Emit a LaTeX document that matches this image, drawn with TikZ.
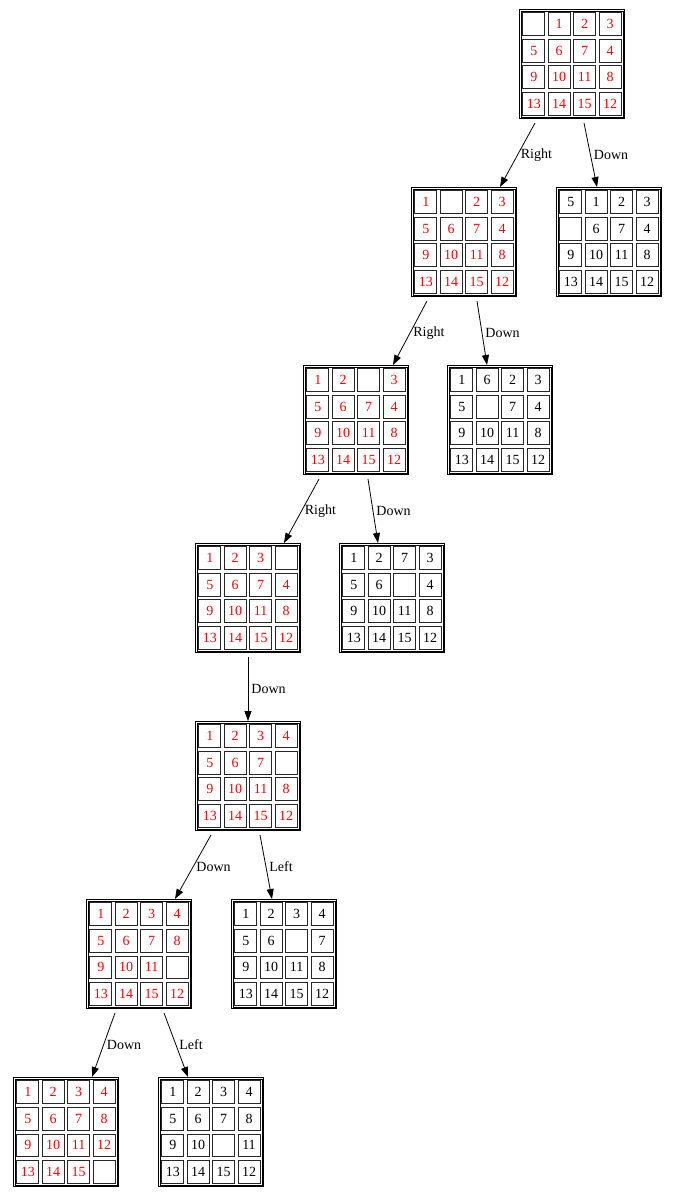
\documentclass[tikz,border=0pt]{standalone}
\usepackage{fontspec}
\setmainfont{Liberation Serif}
\usetikzlibrary{arrows.meta,calc}
\definecolor{tred}{RGB}{255,0,0}
\tikzset{
  boardbox/.style={draw=black, line width=0.7pt,
    minimum width=105.3pt, minimum height=109.3pt, inner sep=0pt},
  boardinner/.style={draw=black, line width=0.7pt},
  cellbox/.style={draw=black!85, line width=1pt, minimum width=22pt,
    minimum height=22.7pt, inner sep=0pt, font=\fontsize{14}{16}\selectfont},
  edge/.style={draw=black, line width=0.8pt, -{Triangle[length=10pt,width=7pt]}},
  elabel/.style={midway, right, inner sep=3pt, font=\fontsize{14}{16}\selectfont}
}
\newcommand\myboard[5]{%
  \node[boardbox] (#1) at (#2,#3) {};
  \draw[boardinner] ([xshift=1.9pt,yshift=-1.9pt]#1.north west) rectangle ([xshift=-1.9pt,yshift=1.9pt]#1.south east);
  \foreach \v [count=\i from 0] in {#5} {
    \pgfmathtruncatemacro\cc{mod(\i,4)}
    \pgfmathtruncatemacro\rr{div(\i,4)}
    \node[cellbox, text=#4] (#1-\i) at ($(#1)+(\cc*25.4-38.2, \rr*26.67-40)$) {\v};
  }%
}
\begin{document}
\begin{tikzpicture}[x=1pt,y=-1pt]
\useasboundingbox (0,0) rectangle (676,1199);
\fill[white] (0,0) rectangle (676,1199);

\myboard{b1}{572}{64}{tred}{{},1,2,3,5,6,7,4,9,10,11,8,13,14,15,12}
\myboard{b2}{464}{242}{tred}{1,{},2,3,5,6,7,4,9,10,11,8,13,14,15,12}
\myboard{b3}{609}{242}{black}{5,1,2,3,{},6,7,4,9,10,11,8,13,14,15,12}
\myboard{b4}{356}{420}{tred}{1,2,{},3,5,6,7,4,9,10,11,8,13,14,15,12}
\myboard{b5}{500}{420}{black}{1,6,2,3,5,{},7,4,9,10,11,8,13,14,15,12}
\myboard{b6}{248}{598}{tred}{1,2,3,{},5,6,7,4,9,10,11,8,13,14,15,12}
\myboard{b7}{392}{598}{black}{1,2,7,3,5,6,{},4,9,10,11,8,13,14,15,12}
\myboard{b8}{248}{776}{tred}{1,2,3,4,5,6,7,{},9,10,11,8,13,14,15,12}
\myboard{b9}{139}{954}{tred}{1,2,3,4,5,6,7,8,9,10,11,{},13,14,15,12}
\myboard{b10}{284}{954}{black}{1,2,3,4,5,6,{},7,9,10,11,8,13,14,15,12}
\myboard{b11}{66}{1132}{tred}{1,2,3,4,5,6,7,8,9,10,11,12,13,14,15,{}}
\myboard{b12}{211}{1132}{black}{1,2,3,4,5,6,7,8,9,10,{},11,13,14,15,12}

\draw[edge] ([xshift=-37pt,yshift=-4pt]b1.south) -- node[elabel]{Right} ([xshift=36pt,yshift=0pt]b2.north);
\draw[edge] ([xshift=12pt,yshift=-4pt]b1.south) -- node[elabel]{Down} ([xshift=-12pt,yshift=0pt]b3.north);
\draw[edge] ([xshift=-37pt,yshift=-4pt]b2.south) -- node[elabel]{Right} ([xshift=37pt,yshift=0pt]b4.north);
\draw[edge] ([xshift=13pt,yshift=-4pt]b2.south) -- node[elabel]{Down} ([xshift=-13pt,yshift=0pt]b5.north);
\draw[edge] ([xshift=-37pt,yshift=-4pt]b4.south) -- node[elabel]{Right} ([xshift=36pt,yshift=0pt]b6.north);
\draw[edge] ([xshift=12pt,yshift=-4pt]b4.south) -- node[elabel]{Down} ([xshift=-14pt,yshift=0pt]b7.north);
\draw[edge] ([yshift=-4pt]b6.south) -- node[elabel]{Down} ([yshift=0pt]b8.north);
\draw[edge] ([xshift=-37pt,yshift=-4pt]b8.south) -- node[elabel]{Down} ([xshift=36pt,yshift=0pt]b9.north);
\draw[edge] ([xshift=12pt,yshift=-4pt]b8.south) -- node[elabel]{Left} ([xshift=-12pt,yshift=0pt]b10.north);
\draw[edge] ([xshift=-24pt,yshift=-4pt]b9.south) -- node[elabel]{Down} ([xshift=26pt,yshift=0pt]b11.north);
\draw[edge] ([xshift=25pt,yshift=-4pt]b9.south) -- node[elabel]{Left} ([xshift=-23pt,yshift=0pt]b12.north);
\end{tikzpicture}
\end{document}
